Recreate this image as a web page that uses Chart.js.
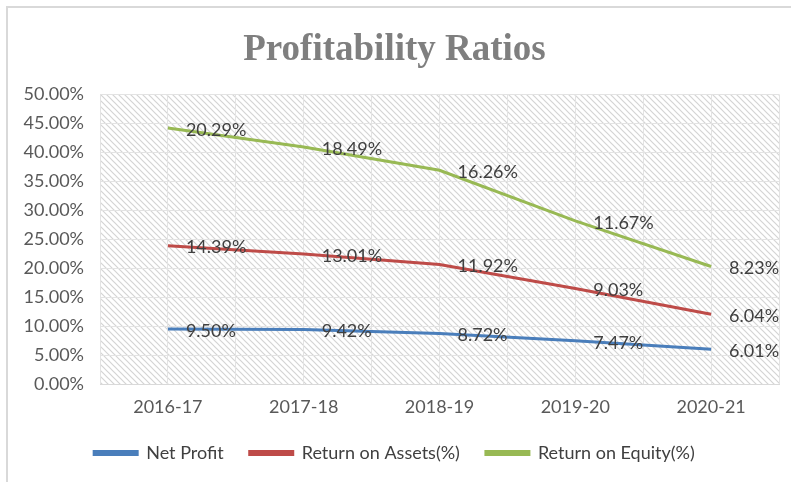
<!DOCTYPE html>
<html>
<head>
<meta charset="utf-8">
<script src="https://cdn.jsdelivr.net/npm/chart.js@4"></script>
<style>
  html, body { margin: 0; padding: 0; background: #fff; }
  #wrap { position: absolute; left: 6px; top: 6px; width: 800px; height: 490px; border: 2px solid #d9d9d9; box-sizing: border-box; }
  #box { position: absolute; left: 0; top: 0; width: 791px; height: 482px; }
</style>
</head>
<body>
<div id="wrap"></div>
<div id="box"><canvas id="chart"></canvas></div>
<script>
var years = ['2016-17', '2017-18', '2018-19', '2019-20', '2020-21'];
var netProfit = [9.50, 9.42, 8.72, 7.47, 6.01];
var returnOnAssets = [14.39, 13.01, 11.92, 9.03, 6.04];
var returnOnEquity = [20.29, 18.49, 16.26, 11.67, 8.23];
var yTicksMax = 50, yTickStep = 5;

// diagonal hatch fill behind the plot, like the Excel pattern fill
function hatch() {
    var c = document.createElement('canvas');
    c.width = 6; c.height = 6;
    var g = c.getContext('2d');
    g.strokeStyle = '#d4d4d4';
    g.lineWidth = 1.2;
    g.beginPath();
    g.moveTo(-1, -1); g.lineTo(7, 7);
    g.moveTo(-1, 5); g.lineTo(1, 7);
    g.moveTo(5, -1); g.lineTo(7, 1);
    g.stroke();
    return g.createPattern(c, 'repeat');
}

var bgPlugin = {
    id: 'hatchBg',
    beforeDraw: function(chart) {
        var a = chart.chartArea, ctx = chart.ctx;
        ctx.save();
        ctx.fillStyle = hatch();
        ctx.fillRect(a.left, a.top, a.right - a.left, a.bottom - a.top);
        ctx.restore();
    }
};

// value labels to the right of each point (raw, not stacked)
var labelPlugin = {
    id: 'valueLabels',
    afterDatasetsDraw: function(chart) {
        var ctx = chart.ctx;
        ctx.save();
        ctx.font = '18px Lato';
        ctx.fillStyle = '#404040';
        ctx.textBaseline = 'middle';
        chart.data.datasets.forEach(function(ds, i) {
            chart.getDatasetMeta(i).data.forEach(function(pt, j) {
                ctx.fillText(ds.data[j].toFixed(2) + '%', pt.x + 18, pt.y + 2);
            });
        });
        ctx.restore();
    }
};

var font = { family: 'Lato', size: 18 };
new Chart(document.getElementById('chart'), {
    type: 'line',
    data: {
        labels: years,
        datasets: [
            { label: 'Net Profit', data: netProfit, borderColor: '#4a7ebb', backgroundColor: '#4a7ebb' },
            { label: 'Return on Assets(%)', data: returnOnAssets, borderColor: '#be4b48', backgroundColor: '#be4b48' },
            { label: 'Return on Equity(%)', data: returnOnEquity, borderColor: '#98b954', backgroundColor: '#98b954' }
        ]
    },
    options: {
        responsive: true, maintainAspectRatio: false, animation: false,
        elements: { point: { radius: 0 }, line: { borderWidth: 3, tension: 0, fill: false } },
        layout: { padding: { left: 10, right: 12, top: 0, bottom: 10 } },
        plugins: {
            title: { display: true, text: 'Profitability Ratios', color: '#7f7f7f',
                font: { family: 'Liberation Serif', size: 37, weight: 'bold' }, padding: { top: 28, bottom: 22 } },
            legend: { position: 'bottom',
                labels: { boxWidth: 43, boxHeight: 3, color: '#404040', font: font, padding: 26 } },
            tooltip: { enabled: false }
        },
        scales: {
            x: { offset: true,
                grid: { offset: false, color: '#e3e3e3', drawTicks: false },
                border: { color: '#d9d9d9' },
                ticks: { color: '#595959', font: font, padding: 12 },
                afterFit: function(s) { s.height = 34; } },
            x2: { position: 'bottom', offset: true, labels: years,
                grid: { offset: true, color: '#e3e3e3', drawTicks: false },
                border: { display: false },
                ticks: { display: false },
                afterFit: function(s) { s.height = 0; } },
            y: { stacked: true, min: 0, max: yTicksMax,
                grid: { color: '#e3e3e3', drawTicks: false },
                border: { display: false },
                ticks: { stepSize: yTickStep, color: '#595959', font: font, padding: 16,
                    callback: function(v) { return v.toFixed(2) + '%'; } },
                afterFit: function(s) { s.width = 90; } }
        }
    },
    plugins: [bgPlugin, labelPlugin]
});
</script>
</body>
</html>
